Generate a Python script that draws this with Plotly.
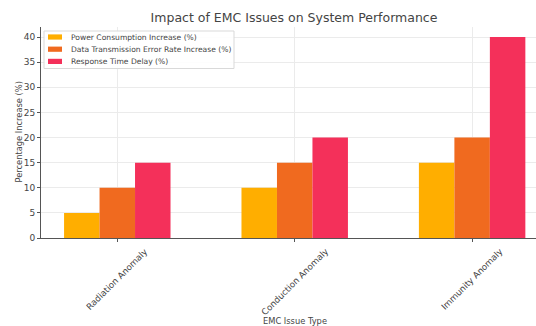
import plotly.graph_objects as go

# EMC issue categories and measured impacts (%)
categories = ["Radiation Anomaly", "Conduction Anomaly", "Immunity Anomaly"]
power_increase = [5, 10, 15]
error_rate_increase = [10, 15, 20]
response_delay = [15, 20, 40]

series_names = [
    "Power Consumption Increase (%)",
    "Data Transmission Error Rate Increase (%)",
    "Response Time Delay (%)",
]
series_values = [power_increase, error_rate_increase, response_delay]
series_colors = ["#FFAE00", "#F06A1F", "#F4305A"]

y_ticks = [0, 5, 10, 15, 20, 25, 30, 35, 40]

positions = list(range(len(categories)))
bar_w = 0.2
offsets = [-bar_w, 0.0, bar_w]

W, H = 536, 326
ml, mr, mt, mb = 41, 0, 27, 88
pw, ph = W - ml - mr, H - mt - mb


def px(xp):
    """Pixel column -> paper x."""
    return (xp - ml) / pw


def py(yp):
    """Pixel row -> paper y."""
    return (H - mb - yp) / ph


fig = go.Figure()
for name, vals, col, off in zip(series_names, series_values, series_colors, offsets):
    fig.add_trace(go.Bar(
        x=[p + off for p in positions],
        y=vals,
        width=bar_w,
        name=name,
        marker=dict(color=col, line=dict(width=0)),
        showlegend=False,
    ))

txt = "#444444"
annotations = []
shapes = []

# Category labels, rotated 45 degrees and centred under each tick
for p, cat in zip(positions, categories):
    annotations.append(dict(
        text=cat, xref="x", yref="paper", x=p, y=py(244),
        xanchor="center", yanchor="top", textangle=-45,
        showarrow=False, font=dict(size=8.7, color=txt),
    ))

# Axis titles
annotations.append(dict(
    text="Percentage Increase (%)", xref="paper", yref="paper",
    x=px(18), y=0.5, xanchor="center", yanchor="middle",
    textangle=-90, showarrow=False, font=dict(size=8.3, color=txt)))
annotations.append(dict(
    text="EMC Issue Type", xref="paper", yref="paper",
    x=px(295), y=py(321), xanchor="center", yanchor="middle",
    showarrow=False, font=dict(size=8.3, color=txt)))

# Legend box in the upper-left corner of the axes
shapes.append(dict(
    type="rect", xref="paper", yref="paper",
    x0=px(44), x1=px(234), y0=py(31), y1=py(68.5),
    line=dict(color="#D9D9D9", width=1), fillcolor="rgba(255,255,255,0.9)",
    layer="above"))
row_y = [37, 49.2, 61.4]
for name, col, ry in zip(series_names, series_colors, row_y):
    shapes.append(dict(
        type="rect", xref="paper", yref="paper",
        x0=px(48), x1=px(62), y0=py(ry - 2.6), y1=py(ry + 2.6),
        line=dict(width=0), fillcolor=col, layer="above"))
    annotations.append(dict(
        text=name, xref="paper", yref="paper", x=px(68.5), y=py(ry),
        xanchor="left", yanchor="middle", showarrow=False,
        font=dict(size=7.6, color=txt)))

fig.update_layout(
    width=W, height=H,
    margin=dict(l=ml, r=mr, t=mt, b=mb),
    paper_bgcolor="white",
    plot_bgcolor="white",
    font=dict(family="DejaVu Sans", color=txt, size=9),
    barmode="overlay",
    showlegend=False,
    title=dict(
        text="Impact of EMC Issues on System Performance",
        x=294 / W, xanchor="center", y=1 - 18 / H, yanchor="middle",
        font=dict(size=12.5, color=txt),
    ),
    xaxis=dict(
        range=[-0.43, 2.36],
        tickmode="array", tickvals=positions, showticklabels=False,
        showgrid=True, gridcolor="#EBEBEB", gridwidth=1,
        showline=True, linecolor="#555555", linewidth=1,
        ticks="outside", ticklen=3, tickcolor="#555555",
        zeroline=False,
    ),
    yaxis=dict(
        range=[0, 42],
        tickmode="array", tickvals=y_ticks,
        showgrid=True, gridcolor="#EBEBEB", gridwidth=1,
        showline=True, linecolor="#555555", linewidth=1,
        ticks="outside", ticklen=3, tickcolor="#555555",
        tickfont=dict(size=9, color=txt),
        zeroline=False,
    ),
    annotations=annotations,
    shapes=shapes,
)

fig.write_html("out.html")
